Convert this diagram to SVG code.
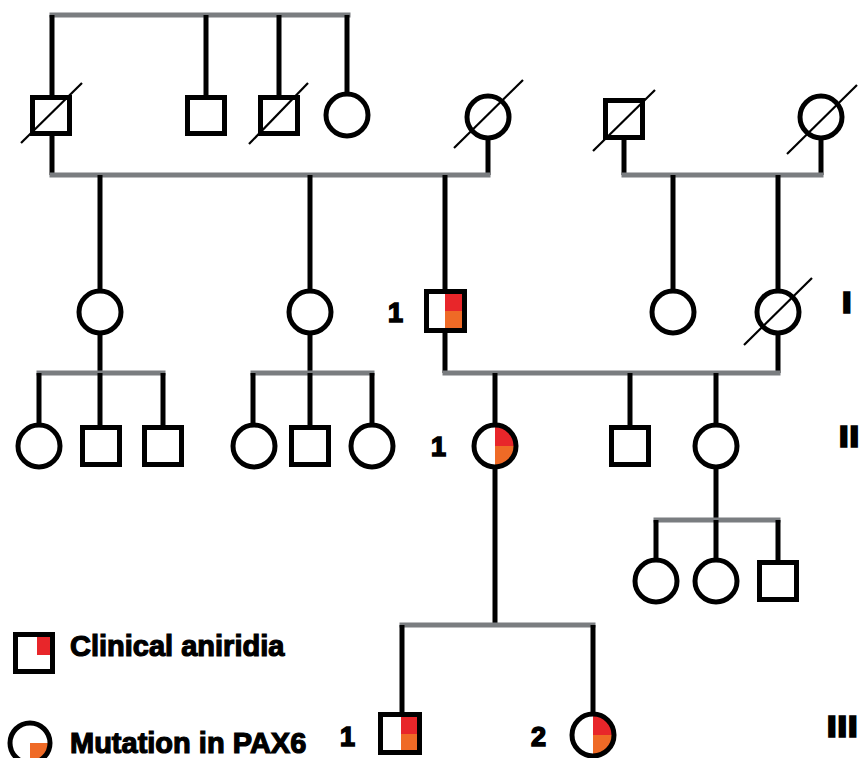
<svg xmlns="http://www.w3.org/2000/svg" width="865" height="758" viewBox="0 0 865 758">
<defs>
<style>
.bg{fill:#ffffff}
.sib{stroke:#7a7d80;stroke-width:5;fill:none;stroke-linecap:square}
.ln{stroke:#000;stroke-width:5;fill:none}
.m{fill:none;stroke:#000;stroke-width:5}
.f{fill:none;stroke:#000;stroke-width:5}
.dec{stroke:#000;stroke-width:2.2}
.red{fill:#e8262a}
.org{fill:#ef6a26}
.num{font-family:"Liberation Sans",Arial,sans-serif;font-weight:bold;font-size:27px;fill:#000;stroke:#000;stroke-width:1.6}
.gen{font-family:"Liberation Sans",Arial,sans-serif;font-weight:bold;font-size:27px;fill:#000;stroke:#000;stroke-width:3.4;letter-spacing:3px}
.leg{font-family:"Liberation Sans",Arial,sans-serif;font-weight:bold;font-size:29px;fill:#000;stroke:#000;stroke-width:1.2}
</style>
</defs>
<rect class="bg" x="0" y="0" width="865" height="758"/>

<g id="connectors">
  <line class="sib" x1="52" y1="15" x2="348" y2="15"/>
  <line class="ln" x1="52" y1="15" x2="52" y2="97"/>
  <line class="ln" x1="206" y1="15" x2="206" y2="97"/>
  <line class="ln" x1="279" y1="15" x2="279" y2="97"/>
  <line class="ln" x1="347" y1="15" x2="347" y2="94"/>
  <line class="ln" x1="52" y1="133" x2="52" y2="175"/>
  <line class="ln" x1="488" y1="138" x2="488" y2="175"/>
  <line class="sib" x1="52" y1="175" x2="488" y2="175"/>
  <line class="ln" x1="100" y1="175" x2="100" y2="291"/>
  <line class="ln" x1="310" y1="175" x2="310" y2="291"/>
  <line class="ln" x1="445" y1="175" x2="445" y2="291"/>
  <line class="ln" x1="624" y1="139" x2="624" y2="175"/>
  <line class="ln" x1="821" y1="138" x2="821" y2="175"/>
  <line class="sib" x1="624" y1="175" x2="821" y2="175"/>
  <line class="ln" x1="673" y1="175" x2="673" y2="291"/>
  <line class="ln" x1="778" y1="175" x2="778" y2="291"/>
  <line class="ln" x1="100" y1="333" x2="100" y2="373"/>
  <line class="sib" x1="39" y1="373" x2="163" y2="373"/>
  <line class="ln" x1="39" y1="373" x2="39" y2="425"/>
  <line class="ln" x1="100" y1="373" x2="100" y2="427"/>
  <line class="ln" x1="163" y1="373" x2="163" y2="427"/>
  <line class="ln" x1="310" y1="333" x2="310" y2="373"/>
  <line class="sib" x1="253" y1="373" x2="372" y2="373"/>
  <line class="ln" x1="253" y1="373" x2="253" y2="425"/>
  <line class="ln" x1="310" y1="373" x2="310" y2="427"/>
  <line class="ln" x1="372" y1="373" x2="372" y2="425"/>
  <line class="ln" x1="445" y1="331" x2="445" y2="373"/>
  <line class="ln" x1="778" y1="333" x2="778" y2="373"/>
  <line class="sib" x1="445" y1="373" x2="778" y2="373"/>
  <line class="ln" x1="495" y1="373" x2="495" y2="425"/>
  <line class="ln" x1="630" y1="373" x2="630" y2="427"/>
  <line class="ln" x1="716" y1="373" x2="716" y2="425"/>
  <line class="ln" x1="716" y1="467" x2="716" y2="520"/>
  <line class="sib" x1="656" y1="520" x2="778" y2="520"/>
  <line class="ln" x1="656" y1="520" x2="656" y2="560"/>
  <line class="ln" x1="716" y1="520" x2="716" y2="560"/>
  <line class="ln" x1="778" y1="520" x2="778" y2="562"/>
  <line class="ln" x1="495" y1="467" x2="495" y2="625"/>
  <line class="sib" x1="402" y1="625" x2="593" y2="625"/>
  <line class="ln" x1="402" y1="625" x2="402" y2="714"/>
  <line class="ln" x1="593" y1="625" x2="593" y2="714"/>
</g>

<g id="n1"><rect class="m" x="32.5" y="97.5" width="37" height="36"/><line class="dec" x1="21" y1="143" x2="82" y2="83"/></g>
<g id="n2"><rect class="m" x="187.5" y="97.5" width="37" height="36"/></g>
<g id="n3"><rect class="m" x="260.5" y="97.5" width="37" height="36"/><line class="dec" x1="249" y1="144" x2="308" y2="83"/></g>
<g id="n4"><circle class="f" cx="347" cy="115" r="21"/></g>
<g id="n5"><circle class="f" cx="488" cy="117" r="21"/><line class="dec" x1="454" y1="148" x2="523" y2="80"/></g>
<g id="n6"><rect class="m" x="605.5" y="100.5" width="37" height="37"/><line class="dec" x1="593" y1="151" x2="655" y2="90"/></g>
<g id="n7"><circle class="f" cx="821" cy="117" r="21"/><line class="dec" x1="787" y1="154" x2="857" y2="85"/></g>

<g id="n8"><circle class="f" cx="100" cy="312" r="21"/></g>
<g id="n9"><circle class="f" cx="310" cy="312" r="21"/></g>
<g id="I1">
  <rect class="red" x="445" y="291" width="19" height="20"/>
  <rect class="org" x="445" y="311" width="19" height="20"/>
  <rect class="m" x="426.5" y="291.5" width="38" height="39"/>
  <text class="num" x="388" y="322">1</text>
</g>
<g id="n10"><circle class="f" cx="673" cy="312" r="21"/></g>
<g id="n11"><circle class="f" cx="778" cy="312" r="21"/><line class="dec" x1="744" y1="345" x2="812" y2="278"/></g>

<g id="n12"><circle class="f" cx="39" cy="446" r="21"/></g>
<g id="n13"><rect class="m" x="82.5" y="427.5" width="37" height="37"/></g>
<g id="n14"><rect class="m" x="144.5" y="427.5" width="37" height="37"/></g>
<g id="n15"><circle class="f" cx="254" cy="446" r="21"/></g>
<g id="n16"><rect class="m" x="291.5" y="427.5" width="37" height="37"/></g>
<g id="n17"><circle class="f" cx="372" cy="446" r="21"/></g>
<g id="II1">
  <path class="red" d="M495,446 L495,425 A21,21 0 0 1 516,446 Z"/>
  <path class="org" d="M495,446 L516,446 A21,21 0 0 1 495,467 Z"/>
  <circle class="f" cx="495" cy="446" r="21"/>
  <text class="num" x="431" y="456">1</text>
</g>
<g id="n18"><rect class="m" x="611.5" y="427.5" width="37" height="37"/></g>
<g id="n19"><circle class="f" cx="716" cy="446" r="21"/></g>

<g id="n20"><circle class="f" cx="656" cy="581" r="21"/></g>
<g id="n21"><circle class="f" cx="716" cy="581" r="21"/></g>
<g id="n22"><rect class="m" x="759.5" y="562.5" width="37" height="37"/></g>

<g id="III1">
  <rect class="red" x="401" y="716" width="19" height="18"/>
  <rect class="org" x="401" y="734" width="19" height="19"/>
  <rect class="m" x="380.5" y="714.5" width="39" height="38"/>
  <text class="num" x="340" y="746">1</text>
</g>
<g id="III2">
  <path class="red" d="M593,735 L593,714 A21,21 0 0 1 614,735 Z"/>
  <path class="org" d="M593,735 L614,735 A21,21 0 0 1 593,756 Z"/>
  <circle class="f" cx="593" cy="735" r="21"/>
  <text class="num" x="531" y="746">2</text>
</g>

<g id="gen-labels">
  <text class="gen" x="843" y="312">I</text>
  <text class="gen" x="840" y="446">II</text>
  <text class="gen" x="828" y="736">III</text>
</g>

<g id="legend">
  <rect class="red" x="37" y="637" width="15" height="18"/>
  <rect class="m" x="15.5" y="634.5" width="37" height="37"/>
  <text class="leg" x="70" y="656">Clinical aniridia</text>
  <path class="org" d="M30,743 L51,743 A21,21 0 0 1 30,764 Z"/>
  <circle class="f" cx="30" cy="743" r="20"/>
  <text class="leg" x="70" y="753">Mutation in PAX6</text>
</g>
</svg>
